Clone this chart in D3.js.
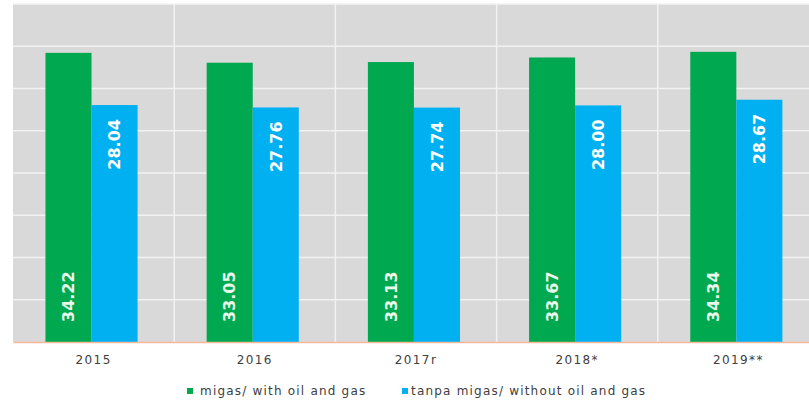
<!DOCTYPE html>
<html lang="en">
<head>
<meta charset="utf-8">
<script src="https://d3js.org/d3.v7.min.js"></script>
<style>
  body { margin: 0; background: #fff; }
  text { font-family: "DejaVu Sans", Verdana, sans-serif; }
</style>
</head>
<body>
<div id="chart"></div>
<script>
// chart data
var years = ["2015", "2016", "2017r", "2018*", "2019**"];
var withOilGas = [34.22, 33.05, 33.13, 33.67, 34.34];
var withoutOilGas = [28.04, 27.76, 27.74, 28.00, 28.67];
var seriesNames = ["migas/ with oil and gas", "tanpa migas/ without oil and gas"];
var seriesColors = ["#00a84f", "#00b0f0"];
var yTicks = [0, 5, 10, 15, 20, 25, 30, 35, 40];

var w = 809, h = 401;
var margin = {top: 4, right: -10, bottom: 59, left: 13};
var innerWidth = w - margin.left - margin.right;
var innerHeight = h - margin.top - margin.bottom;

var svg = d3.select("#chart").append("svg")
  .attr("width", w)
  .attr("height", h);

var g = svg.append("g")
  .attr("transform", `translate(${margin.left},${margin.top})`);

var x0 = d3.scaleBand().domain(years).range([0, innerWidth]).padding(0);
var x1 = d3.scaleBand().domain([0, 1]).range([0, x0.bandwidth()])
  .paddingInner(0).paddingOuter(0.75).align(0.47);
var y = d3.scaleLinear().domain([0, 40]).range([innerHeight, 0]);

// plot background
g.append("rect")
  .attr("width", innerWidth)
  .attr("height", innerHeight)
  .attr("fill", "#d9d9d9");

// horizontal gridlines
g.selectAll(".hgrid").data(yTicks.slice(1))
  .enter().append("line")
  .attr("x1", 0).attr("x2", innerWidth)
  .attr("y1", d => y(d)).attr("y2", d => y(d))
  .attr("stroke", "#f2f2f2").attr("stroke-width", 1.5);

// vertical gridlines at category boundaries
g.selectAll(".vgrid").data(years.slice(1))
  .enter().append("line")
  .attr("x1", d => x0(d)).attr("x2", d => x0(d))
  .attr("y1", 0).attr("y2", innerHeight)
  .attr("stroke", "#f2f2f2").attr("stroke-width", 1.5);

var rows = years.map((yr, i) => ({year: yr, values: [withOilGas[i], withoutOilGas[i]]}));

var groups = g.selectAll(".grp").data(rows)
  .enter().append("g")
  .attr("transform", d => `translate(${x0(d.year)},0)`);

groups.selectAll("rect").data(d => d.values.map((v, k) => ({k: k, v: v})))
  .enter().append("rect")
  .attr("x", d => x1(d.k))
  .attr("y", d => y(d.v))
  .attr("width", x1.bandwidth())
  .attr("height", d => innerHeight - y(d.v))
  .attr("fill", d => seriesColors[d.k]);

// value labels, rotated
groups.selectAll(".lbl").data(d => d.values.map((v, k) => ({k: k, v: v})))
  .enter().append("text")
  .attr("transform", d => {
    var cx = x1(d.k) + x1.bandwidth() / 2;
    var cy = d.k === 0 ? innerHeight - 20 : y(d.v) + 14;
    return `translate(${cx},${cy}) rotate(-90)`;
  })
  .attr("text-anchor", d => d.k === 0 ? "start" : "end")
  .attr("dy", "0.36em")
  .attr("fill", d => d.k === 0 ? "#e8f8ea" : "#fff")
  .attr("font-weight", "bold")
  .attr("font-size", 16)
  .text(d => d.v.toFixed(2));

// x axis
var xAxis = g.append("g")
  .attr("transform", `translate(0,${innerHeight})`)
  .call(d3.axisBottom(x0).tickSize(0).tickPadding(13));
xAxis.select(".domain").attr("stroke", "#f4b89a").attr("stroke-width", 1.5);
xAxis.selectAll("text")
  .attr("font-size", 12)
  .attr("letter-spacing", 1.4)
  .attr("fill", "#404040");

// legend
var legend = svg.append("g").attr("transform", "translate(0,391)");
var legX = [187, 402];
seriesNames.forEach(function(name, i) {
  legend.append("rect")
    .attr("x", legX[i]).attr("y", -3)
    .attr("width", 6).attr("height", 6)
    .attr("fill", seriesColors[i]);
  legend.append("text")
    .attr("x", legX[i] + (i === 0 ? 13 : 9)).attr("y", 0)
    .attr("dy", "0.35em")
    .attr("font-size", 12)
    .attr("letter-spacing", 1.2)
    .attr("fill", "#404040")
    .text(name);
});
</script>
</body>
</html>
